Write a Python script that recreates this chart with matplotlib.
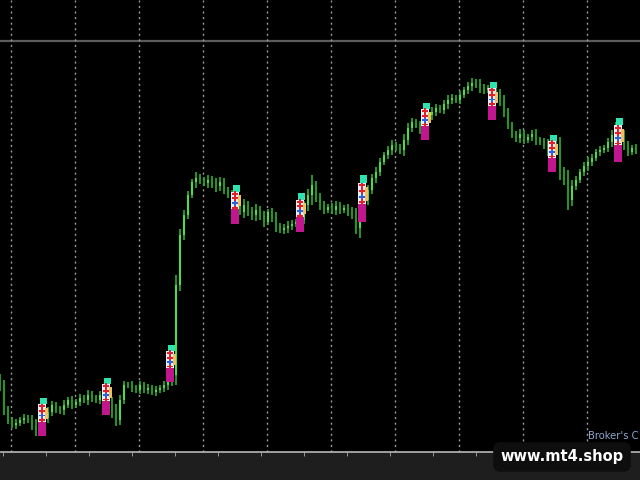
import numpy as np
import matplotlib
matplotlib.use("Agg")
import matplotlib.pyplot as plt

# closing prices, in points above the chart floor, one every bar
closes = [67, 42, 32, 27, 29, 32, 34, 32, 27, 22,
          32, 34, 40, 47, 42, 42, 47, 52, 47, 50,
          54, 52, 57, 54, 52, 57, 57, 47, 42, 32,
          52, 67, 67, 64, 62, 67, 62, 64, 60, 62,
          64, 67, 72, 77, 167, 217, 237, 257, 270, 274,
          272, 269, 272, 268, 266, 270, 262, 257, 252, 247,
          240, 247, 240, 237, 242, 236, 230, 240, 234, 226,
          222, 224, 226, 228, 230, 232, 247, 257, 267, 254,
          247, 242, 245, 242, 246, 242, 244, 240, 238, 224,
          240, 252, 262, 274, 280, 290, 297, 302, 307, 304,
          302, 312, 324, 330, 327, 322, 332, 337, 340, 344,
          342, 348, 352, 354, 352, 357, 362, 366, 369, 368,
          364, 362, 364, 360, 357, 352, 340, 327, 317, 314,
          318, 312, 315, 318, 312, 310, 307, 302, 304, 307,
          280, 272, 252, 266, 272, 280, 286, 290, 294, 300,
          302, 304, 310, 317, 326, 317, 307, 300, 304, 302]

# high/low reach beyond the body
wick = [6, 5, 4, 3, 4, 3, 4, 3, 5, 6,
        4, 3, 5, 4, 3, 4, 5, 3, 4, 3,
        4, 3, 5, 4, 3, 4, 5, 3, 8, 6,
        5, 4, 3, 4, 3, 4, 3, 4, 3, 4,
        3, 4, 5, 6, 10, 6, 5, 4, 3, 6,
        4, 3, 5, 4, 6, 5, 4, 3, 5, 4,
        3, 6, 4, 5, 6, 4, 5, 3, 4, 6,
        3, 4, 5, 4, 3, 5, 4, 6, 10, 4,
        5, 4, 3, 4, 5, 4, 3, 4, 5, 6,
        10, 6, 5, 4, 5, 4, 3, 4, 5, 3,
        4, 6, 5, 4, 3, 4, 3, 4, 5, 4,
        3, 4, 5, 4, 3, 4, 3, 4, 5, 4,
        5, 4, 3, 6, 4, 6, 5, 4, 3, 4,
        5, 4, 3, 4, 5, 3, 4, 6, 4, 5,
        8, 5, 10, 6, 4, 3, 4, 5, 4, 3,
        4, 3, 4, 5, 4, 6, 5, 4, 3, 4]

# indicator clusters: bar position, top and bottom level
cluster_x = [10.5, 26.5, 42.5, 58.75, 75, 90.5, 106.25, 123, 138, 154.5]
cluster_top = [54, 74, 107, 267, 259, 277, 349, 370, 317, 334]
cluster_bottom = [16, 37, 70, 228, 220, 230, 312, 332, 280, 290]

level_line = 411

closes = np.array(closes, dtype=float)
wick = np.array(wick, dtype=float)
opens = np.concatenate([[closes[0] + 5], closes[:-1]])
highs = np.maximum(opens, closes) + wick
lows = np.minimum(opens, closes) - wick
idx = np.arange(len(closes))

fig = plt.figure(figsize=(6.4, 4.8), dpi=100, facecolor="#1e1e1e")
ax = fig.add_axes([0, 28 / 480, 1, 1 - 28 / 480])
ax.set_facecolor("black")

# dotted vertical grid
ax.set_xticks(np.arange(2.75, 160, 16))
ax.grid(axis="x", color="#9a9a9a", linestyle=(0, (1.5, 2.5)), linewidth=1)
ax.tick_params(axis="x", which="major", length=0, labelbottom=False)
ax.set_xticks(np.arange(0.75, 160, 10.75), minor=True)
ax.tick_params(axis="x", which="minor", length=3, color="#aaaaaa", direction="out")
ax.set_yticks([])

ax.axhline(level_line, color="#5c5c5c", linewidth=1.6, zorder=1)

up = closes >= opens
ax.vlines(idx, lows, highs, color="#2fae2f", linewidth=1.2, zorder=2)
ax.bar(idx[up], closes[up] - opens[up], bottom=opens[up], width=0.7,
       color="#44e044", zorder=3, linewidth=0)
ax.bar(idx[~up], opens[~up] - closes[~up], bottom=closes[~up], width=0.7,
       color="#1f9c1f", zorder=3, linewidth=0)

for cx, top, bot in zip(cluster_x, cluster_top, cluster_bottom):
    h = top - bot
    ax.bar(cx, h * 0.38, bottom=bot, width=2.1, color="#c2168e", zorder=4, linewidth=0)
    ax.bar(cx, h * 0.45, bottom=bot + h * 0.38, width=2.1, color="#e8eef8", zorder=4, linewidth=0)
    ax.bar(cx + 0.4, h * 0.17, bottom=top - h * 0.17, width=1.6, color="#2ee3b0", zorder=4, linewidth=0)
    ax.bar(cx + 1.1, h * 0.3, bottom=bot + h * 0.45, width=0.7, color="#f0c060", zorder=4, linewidth=0)
    ys = np.linspace(bot + h * 0.42, top - h * 0.22, 4)
    ax.scatter([cx] * 4, ys, marker="P", s=16, color=["#e0202a", "#3060e0", "#e0202a", "#e0202a"],
               zorder=5, linewidths=0)

ax.set_xlim(0, 160)
ax.set_ylim(0, 452)
for s in ["top", "left", "right"]:
    ax.spines[s].set_visible(False)
ax.spines["bottom"].set_color("#b8b8b8")
ax.spines["bottom"].set_linewidth(1.2)

ax.text(639 / 640, 16 / 452, "Broker's C", transform=ax.transAxes, color="#8ea6cf",
        fontsize=7.2, ha="right", va="center")

fig.text(562 / 640, 1 - 457 / 480, "www.mt4.shop", color="white", fontsize=10.5,
         fontweight="bold", ha="center", va="center",
         bbox=dict(boxstyle="round,pad=0.5", facecolor="#0e0e0e", edgecolor="none"))

fig.savefig("out.png", dpi=100, facecolor=fig.get_facecolor())
